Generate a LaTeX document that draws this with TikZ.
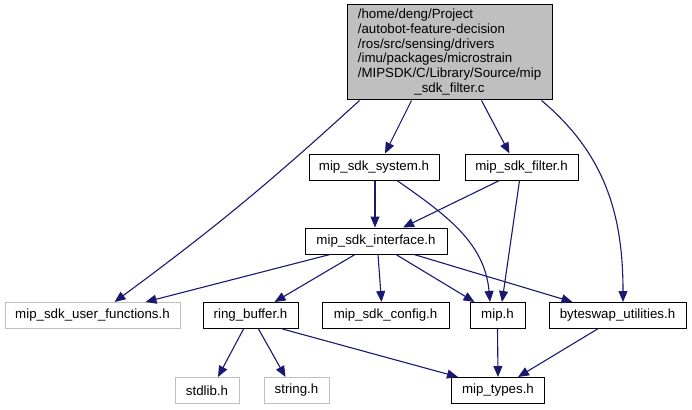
\documentclass[tikz,border=0pt]{standalone}
\usepackage{fontspec}
\setmainfont{Liberation Sans}
\usetikzlibrary{arrows.meta}
\definecolor{edgeblue}{HTML}{191970}
\definecolor{lgray}{HTML}{BFBFBF}
\tikzset{
  hbox/.style={draw=black, line width=1pt, fill=white, minimum height=26pt, inner sep=0pt, font=\fontsize{13.3}{14.7}\selectfont},
  gbox/.style={hbox, draw=lgray},
  rootbox/.style={draw=black, line width=1pt, fill=lgray, minimum width=205pt, minimum height=95pt, inner sep=0pt, font=\fontsize{13.3}{14.7}\selectfont},
  dep/.style={draw=edgeblue, line width=1.1pt, -{Triangle[length=11pt,width=9pt]}},
}
\begin{document}
\begin{tikzpicture}[x=1pt, y=-1pt]
\useasboundingbox (0,0) rectangle (692,409);
\node[rootbox] (root) at (449.5,52.5) {\begin{tabular}{@{}l@{}}/home/deng/Project\\/autobot-feature-decision\\/ros/src/sensing/drivers\\/imu/packages/microstrain\\/MIPSDK/C/Library/Source/mip\\\multicolumn{1}{@{}c@{}}{\_sdk\_filter.c}\end{tabular}};
\node[hbox, minimum width=130pt] (sys) at (374,167) {mip\_sdk\_system.h};
\node[hbox, minimum width=113pt] (filt) at (521.5,167) {mip\_sdk\_filter.h};
\node[hbox, minimum width=142pt] (iface) at (376,241) {mip\_sdk\_interface.h};
\node[gbox, minimum width=175pt] (user) at (92.5,315.5) {mip\_sdk\_user\_functions.h};
\node[hbox, minimum width=95pt] (ring) at (250.5,315.5) {ring\_buffer.h};
\node[hbox, minimum width=127pt] (conf) at (385.5,315.5) {mip\_sdk\_config.h};
\node[hbox, minimum width=55pt] (mip) at (497.5,315.5) {mip.h};
\node[hbox, minimum width=137pt] (bswap) at (617.5,315.5) {byteswap\_utilities.h};
\node[gbox, minimum width=64pt] (stdlib) at (207,390.5) {stdlib.h};
\node[gbox, minimum width=65pt] (string) at (296.5,390.5) {string.h};
\node[hbox, minimum width=93pt] (mtypes) at (498,390.5) {mip\_types.h};

\draw[dep] ([xshift=-90pt]root.south) to[bend left=3] ([xshift=22pt]user.north);
\draw[dep] ([xshift=-38pt]root.south) -- ([xshift=11pt]sys.north);
\draw[dep] ([xshift=32pt]root.south) -- ([xshift=-12pt]filt.north);
\draw[dep] ([xshift=92pt]root.south) to[out=-40,in=90] ([xshift=5.5pt]bswap.north);
\draw[dep] ([xshift=1pt]sys.south) -- ([xshift=-1pt]iface.north);
\draw[dep] ([xshift=23pt]sys.south) to[out=-35,in=95] ([xshift=-7.5pt]mip.north);
\draw[dep] ([xshift=-22pt]filt.south) -- ([xshift=27pt]iface.north);
\draw[dep] ([xshift=-2pt]filt.south) -- ([xshift=4.5pt]mip.north);
\draw[dep] ([xshift=-46pt]iface.south) -- ([xshift=53pt]user.north);
\draw[dep] ([xshift=-21pt]iface.south) -- ([xshift=24pt]ring.north);
\draw[dep] ([xshift=2pt]iface.south) -- ([xshift=-4pt]conf.north);
\draw[dep] ([xshift=20pt]iface.south) -- ([xshift=-23pt]mip.north);
\draw[dep] ([xshift=38pt]iface.south) -- ([xshift=-45pt]bswap.north);
\draw[dep] ([xshift=-7pt]ring.south) -- ([xshift=11pt]stdlib.north);
\draw[dep] ([xshift=8pt]ring.south) -- ([xshift=-11pt]string.north);
\draw[dep] ([xshift=32pt]ring.south) -- ([xshift=-40pt]mtypes.north);
\draw[dep] (mip.south) -- (mtypes.north);
\draw[dep] ([xshift=-20pt]bswap.south) -- ([xshift=20pt]mtypes.north);
\end{tikzpicture}
\end{document}
